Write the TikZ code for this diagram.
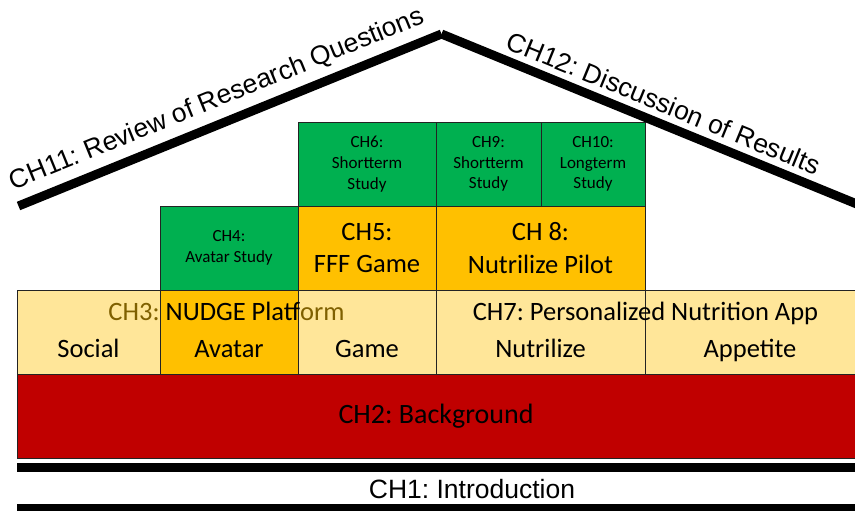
\documentclass[tikz,border=0pt]{standalone}
\usepackage{fontspec}
\setmainfont{Carlito}
\newfontfamily\arialfont{Liberation Sans}
\definecolor{cellyellow}{HTML}{FFE699}
\definecolor{cellorange}{HTML}{FFC000}
\definecolor{cellgreen}{HTML}{00B050}
\definecolor{cellred}{HTML}{C00000}
\definecolor{ch3brown}{RGB}{127,96,0}
\definecolor{cellborder}{RGB}{35,35,35}
\frenchspacing
\begin{document}
\begin{tikzpicture}[x=1pt,y=-1pt,
  cell/.style={draw=cellborder, line width=0.9pt, inner sep=0pt, outer sep=0pt,
               anchor=north west, align=center},
  big/.style={font=\fontsize{26.5}{32.5}\selectfont},
  small/.style={font=\fontsize{17}{20.7}\selectfont},
  lab/.style={inner sep=0pt, anchor=base},
  roof/.style={line width=9pt, line cap=butt},
  rooftext/.style={font=\arialfont\fontsize{26.5}{30}\selectfont, inner sep=0pt}
]
\useasboundingbox (0,0) rectangle (855,511);

% top row: studies
\node[cell, fill=cellgreen, small, minimum width=138, minimum height=84] (ch6) at (298,122) {CH6:\\Shortterm\\Study};
\node[cell, fill=cellgreen, small, minimum width=105, minimum height=84] (ch9) at (436,122) {CH9:\\Shortterm\\Study};
\node[cell, fill=cellgreen, small, minimum width=104, minimum height=84] (ch10) at (541,122) {CH10:\\Longterm\\Study};

% second row
\node[cell, fill=cellgreen, small, minimum width=138, minimum height=84] (ch4) at (160,206) {CH4:\\Avatar Study};
\node[cell, fill=cellorange, big, minimum width=138, minimum height=84] (ch5) at (298,206) {CH5:\\FFF Game};
\node[cell, fill=cellorange, big, minimum width=209, minimum height=84] (ch8) at (436,206) {CH 8:\\Nutrilize Pilot};

% platform row
\node[cell, fill=cellyellow, minimum width=143, minimum height=84] (social) at (17,290) {};
\node[cell, fill=cellorange, minimum width=138, minimum height=84] (avatar) at (160,290) {};
\node[cell, fill=cellyellow, minimum width=138, minimum height=84] (game) at (298,290) {};
\node[cell, fill=cellyellow, minimum width=209, minimum height=84] (nutrilize) at (436,290) {};
\node[cell, fill=cellyellow, minimum width=210, minimum height=84] (appetite) at (645,290) {};

\node[lab, big] (ch3) at (226.5,320) {\textcolor{ch3brown}{CH3: }NUDGE Platf\textcolor{ch3brown}{orm}};
\node[lab, big] (ch7) at (645.5,320) {CH7: Personalized Nutrition App};
\node[lab, big] (tsocial) at (88.5,357) {Social};
\node[lab, big] (tavatar) at (229,357) {Avatar};
\node[lab, big] (tgame) at (367,357) {Game};
\node[lab, big] (tnutrilize) at (540.5,357) {Nutrilize};
\node[lab, big] (tappetite) at (750,357) {Appetite};

% foundation
\node[cell, fill=cellred, font=\fontsize{28}{32}\selectfont, minimum width=838, minimum height=84] (ch2) at (17,374) {CH2: Background};

% introduction between two bars
\fill (17,463) rectangle (855,472);
\fill (17,504) rectangle (855,512);
\node[rooftext, anchor=base] (ch1) at (472,498) {CH1: Introduction};

% roof
\coordinate (eaveL) at (18.5,206);
\coordinate (apex) at (441.5,34);
\coordinate (eaveR) at (858,204.5);
\draw[roof] (eaveL) -- (apex)
  node[rooftext, sloped, above=7pt, pos=0.49] (ch11) {CH11: Review of Research Questions};
\draw[roof] (apex) -- (eaveR)
  node[rooftext, sloped, above=6pt, pos=0.515] (ch12) {CH12: Discussion of Results};
\end{tikzpicture}
\end{document}
